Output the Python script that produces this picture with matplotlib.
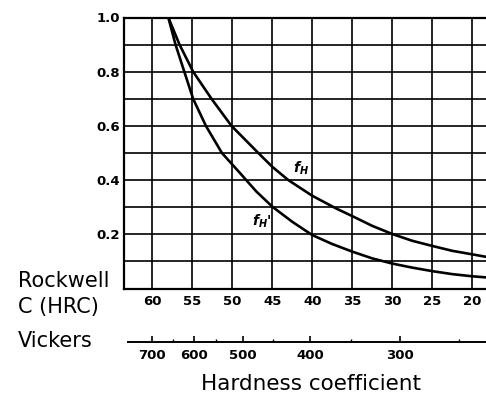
import matplotlib
matplotlib.use('Agg')
import matplotlib.pyplot as plt

hrc_ticks = [60, 55, 50, 45, 40, 35, 30, 25, 20]
y_ticks = [0.0, 0.1, 0.2, 0.3, 0.4, 0.5, 0.6, 0.7, 0.8, 0.9, 1.0]
y_labels = ['', '', '0.2', '', '0.4', '', '0.6', '', '0.8', '', '1.0']

fh_hrc = [58.0, 56.6, 54.9, 52.6, 50.1, 46.75, 45.0, 43.0, 40.0, 37.0, 35.0,
          32.5, 30.0, 27.5, 25.0, 22.5, 20.0, 18.3]
fh_val = [1.0, 0.9, 0.8, 0.7, 0.6, 0.5, 0.449, 0.4, 0.342, 0.295, 0.267,
          0.231, 0.201, 0.176, 0.157, 0.139, 0.126, 0.117]

fh2_hrc = [58.0, 57.1, 56.0, 54.9, 53.3, 51.3, 49.1, 47.0, 45.0, 42.5, 40.0,
           37.5, 35.0, 32.5, 30.0, 27.5, 25.0, 22.5, 20.0, 18.3]
fh2_val = [1.0, 0.9, 0.8, 0.7, 0.6, 0.5, 0.428, 0.358, 0.302, 0.246, 0.197,
           0.164, 0.136, 0.111, 0.092, 0.077, 0.064, 0.053, 0.045, 0.041]

# Vickers values and where they sit on the HRC scale
hv_major = [700, 600, 500, 400, 300]
hv_major_hrc = [60.0, 54.8, 48.7, 40.3, 29.0]
hv_minor_hrc = [57.4, 52.0, 44.9, 35.2, 21.7]

x_left, x_right = 63.54, 18.29

plt.rcParams['mathtext.fontset'] = 'custom'
plt.rcParams['mathtext.it'] = 'DejaVu Sans:italic:bold'
plt.rcParams['mathtext.rm'] = 'DejaVu Sans:bold'

fig = plt.figure(figsize=(4.86, 3.94), dpi=100)
ax = fig.add_axes([124 / 486, 1 - 288.5 / 394, 362 / 486, 271 / 394])

ax.plot(fh_hrc, fh_val, color='black', linewidth=1.9, solid_joinstyle='round')
ax.plot(fh2_hrc, fh2_val, color='black', linewidth=1.9, solid_joinstyle='round')

ax.set_xlim(x_left, x_right)
ax.set_ylim(0, 1.0)
ax.set_xticks(hrc_ticks)
ax.set_xticklabels([str(v) for v in hrc_ticks])
ax.set_yticks(y_ticks)
ax.set_yticklabels(y_labels)
ax.grid(True, color='black', linewidth=1.2)
ax.tick_params(length=0, labelsize=9.5)
ax.tick_params(axis='x', pad=5)
ax.tick_params(axis='y', pad=3)
for lab in ax.get_xticklabels() + ax.get_yticklabels():
    lab.set_fontweight('bold')
ax.spines['right'].set_visible(False)
for s in ['left', 'top', 'bottom']:
    ax.spines[s].set_linewidth(1.6)

ax.text(41.44, 0.4435, r'$f_H$', fontsize=10, ha='center', va='center')
ax.text(46.35, 0.247, r"$f_H$'", fontsize=10, ha='center', va='center', fontweight='bold')

# Vickers scale
ax2 = fig.add_axes([124 / 486, 1 - 342.3 / 394, 362 / 486, 0.001])
ax2.set_xlim(x_left, x_right)
ax2.set_ylim(0, 1)
for s in ['left', 'top', 'right']:
    ax2.spines[s].set_visible(False)
ax2.spines['bottom'].set_linewidth(1.4)
ax2.spines['bottom'].set_bounds(63.1, x_right)
ax2.set_yticks([])
ax2.set_xticks(hv_major_hrc)
ax2.set_xticklabels([str(v) for v in hv_major])
ax2.set_xticks(hv_minor_hrc, minor=True)
ax2.tick_params(axis='x', which='major', direction='in', length=4.3, width=1.2, pad=4.5, labelsize=9.5)
ax2.tick_params(axis='x', which='minor', direction='in', length=2.2, width=1.0)
for lab in ax2.get_xticklabels():
    lab.set_fontweight('bold')

fig.text(18 / 486, 1 - 286.7 / 394, 'Rockwell', fontsize=15, ha='left', va='baseline')
fig.text(18 / 486, 1 - 313.3 / 394, 'C (HRC)', fontsize=15, ha='left', va='baseline')
fig.text(18 / 486, 1 - 347.3 / 394, 'Vickers', fontsize=15, ha='left', va='baseline')
fig.text(201 / 486, 1 - 390 / 394, 'Hardness coefficient', fontsize=15.5, ha='left', va='baseline')

fig.savefig('out.png', dpi=100)
